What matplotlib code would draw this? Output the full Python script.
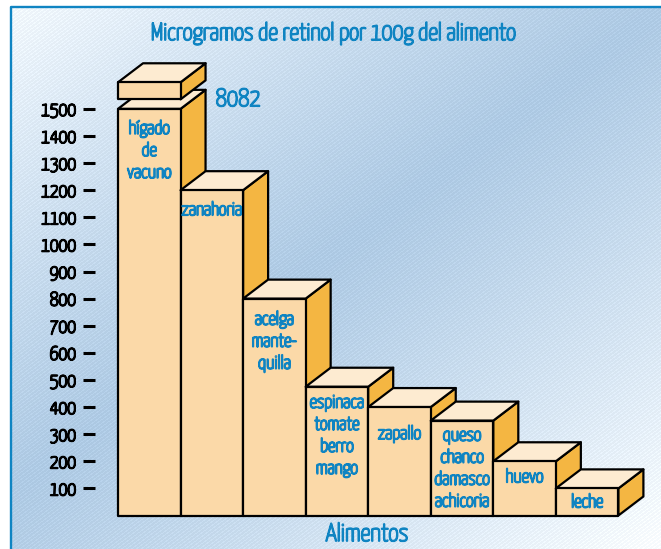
import numpy as np
import matplotlib
matplotlib.use("Agg")
import matplotlib.pyplot as plt
import matplotlib.patheffects as pe
from matplotlib.patches import Polygon
from matplotlib.lines import Line2D

plt.rcParams['font.family'] = ['Yanone Kaffeesatz', 'Archivo Narrow', 'Liberation Sans Narrow', 'Liberation Sans', 'DejaVu Sans']

# data
alimentos = [["hígado", "de", "vacuno"], ["zanahoria"], ["acelga", "mante-", "quilla"],
             ["espinaca", "tomate", "berro", "mango"], ["zapallo"],
             ["queso", "chanco", "damasco", "achicoria"], ["huevo"], ["leche"]]
retinol = [1500, 1200, 800, 475, 400, 350, 200, 100]
ticks = [100, 200, 300, 400, 500, 600, 700, 800, 900, 1000, 1100, 1200, 1300, 1400, 1500]
valor_cortado = "8082"

# layout, in pixels
W, H = 661, 549
bar_px = 62.55
unit_px = 0.2711
x0_px, y0_px = 118, 515.5
depth_x = 25 / bar_px
depth_y = 19 / unit_px
label_first = [25, 25, 26, 21, 32, 20, 21, 19]
line_px = 22

AZUL = "#0f84c2"
FRENTE = "#fbd9a8"
TAPA = "#fdebd1"
LADO = "#f4b642"


def grueso(color, w=1.3):
    # the font only comes in a light weight, so thicken it
    return [pe.withStroke(linewidth=w, foreground=color)]


fig = plt.figure(figsize=(W / 100, H / 100), dpi=100)

# fondo: degradado diagonal con rayas finas
yy, xx = np.mgrid[0:H, 0:W]
t = 0.74 * xx + yy
s = np.clip(np.abs(t - 499) / 520, 0, 1)
dark = np.array([172, 200, 226.0])
light = np.array([246, 250, 253.0])
bg = dark + (light - dark) * s[..., None] ** 1.15
raya = (np.sin(t * 2 * np.pi / 3.6) > 0.5)[..., None]
bg = bg + raya * 9
bg = np.clip(bg, 0, 255)
bg[:6, :] = 255
bg[:, :10] = 255

bgax = fig.add_axes([0, 0, 1, 1], zorder=0)
bgax.imshow(bg.astype(np.uint8), aspect='auto', interpolation='nearest')
bgax.set_axis_off()

ax = fig.add_axes([0, 0, 1, 1], zorder=1)
ax.patch.set_alpha(0)
ax.set_axis_off()
ax.set_xlim(-x0_px / bar_px, (W - x0_px) / bar_px)
ax.set_ylim(-(H - y0_px) / unit_px, y0_px / unit_px)

# marco azul
fig.add_artist(Line2D([11 / W, 11 / W, 1], [0, 1 - 6.5 / H, 1 - 6.5 / H], color=AZUL, lw=1.7, zorder=2))


def caja(x, base, top, z):
    kw = dict(ec="black", lw=1.6, joinstyle="round", zorder=z)
    lado = [(x + 1, top), (x + 1 + depth_x, top + depth_y), (x + 1 + depth_x, base + depth_y), (x + 1, base)]
    tapa = [(x, top), (x + depth_x, top + depth_y), (x + 1 + depth_x, top + depth_y), (x + 1, top)]
    frente = [(x, base), (x, top), (x + 1, top), (x + 1, base)]
    ax.add_patch(Polygon(lado, fc=LADO, **kw))
    ax.add_patch(Polygon(tapa, fc=TAPA, **kw))
    ax.add_patch(Polygon(frente, fc=FRENTE, **kw))


for i, v in enumerate(retinol):
    caja(i, 0, v, 2 + i * 0.1)
    for j, linea in enumerate(alimentos[i]):
        ax.text(i + 0.5, v - (label_first[i] + j * line_px) / unit_px, linea, color=AZUL,
                fontsize=13.5, ha='center', va='baseline', zorder=5, path_effects=grueso(AZUL))

# trozo superior de la barra cortada
caja(0, 1535, 1598, 3.5)
ax.text(1.56, 1510, valor_cortado, color=AZUL, fontsize=18, va='baseline', zorder=5, path_effects=grueso(AZUL))

# eje
for v in ticks:
    ax.plot([-35 / bar_px, -23 / bar_px], [v, v], color="black", lw=2.2, solid_capstyle='butt')
    ax.text(-42 / bar_px, v, str(v), color="black", fontsize=14, ha='right', va='center_baseline',
            path_effects=grueso("black"))

ax.text((333.5 - x0_px) / bar_px, (y0_px - 40) / unit_px, "Microgramos de retinol por 100g del alimento",
        color=AZUL, fontsize=17.5, ha='center', va='baseline', path_effects=grueso(AZUL))
ax.text((367 - x0_px) / bar_px, (y0_px - 541) / unit_px, "Alimentos",
        color=AZUL, fontsize=18, ha='center', va='baseline', path_effects=grueso(AZUL))

fig.savefig("out.png", dpi=100)
